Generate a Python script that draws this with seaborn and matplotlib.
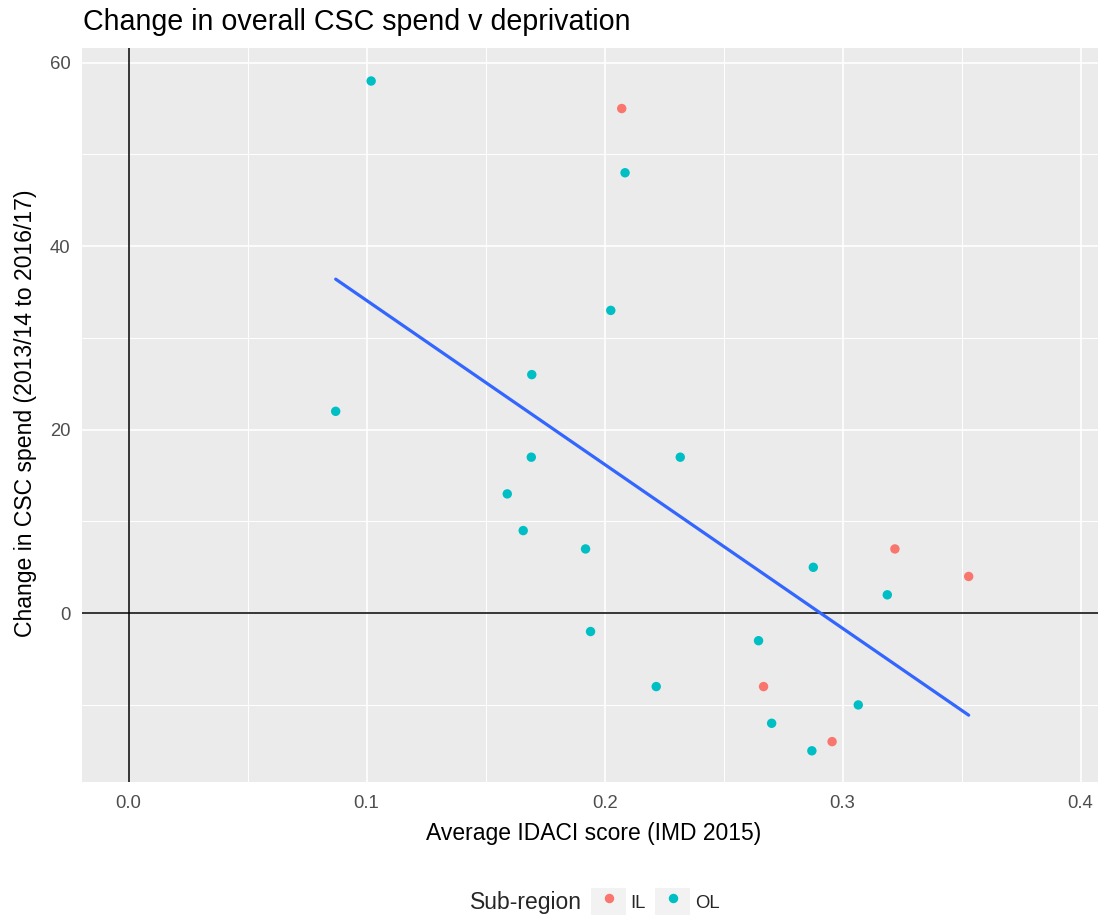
import matplotlib
matplotlib.use("Agg")
import matplotlib.pyplot as plt
from matplotlib.patches import Patch
from matplotlib.lines import Line2D
from matplotlib.legend_handler import HandlerTuple
from matplotlib.ticker import MultipleLocator
import seaborn as sns
import pandas as pd

# ---- data ----
il_idaci = [0.2072, 0.3220, 0.3530, 0.2668, 0.2956]
il_change = [55, 7, 4, -8, -14]
ol_idaci = [0.0870, 0.1019, 0.2086, 0.2026, 0.1694, 0.1692, 0.2318, 0.1591, 0.1658,
            0.1920, 0.1941, 0.2217, 0.2647, 0.2877, 0.3188, 0.3066, 0.2702, 0.2871]
ol_change = [22, 58, 48, 33, 26, 17, 17, 13, 9, 7, -2, -8, -3, 5, 2, -10, -12, -15]
subregions = ["IL", "OL"]
colors = ["#F8766D", "#00BFC4"]

df = pd.DataFrame({
    "idaci": il_idaci + ol_idaci,
    "change": il_change + ol_change,
    "sub": ["IL"] * len(il_idaci) + ["OL"] * len(ol_idaci),
})

sns.set_style("white")
plt.rcParams["font.family"] = ["Liberation Sans", "DejaVu Sans"]

W, H = 1098, 915
fig = plt.figure(figsize=(W / 100, H / 100), dpi=100)
left, right, top, bottom = 82, 1106, 47.7, 782
ax = fig.add_axes([left / W, 1 - bottom / H, (right - left) / W, (bottom - top) / H])
ax.set_facecolor("#EBEBEB")
for s in ax.spines.values():
    s.set_visible(False)

ax.set_xlim(-0.0196, 0.4107)
ax.set_ylim(-18.4, 61.63)
ax.xaxis.set_major_locator(MultipleLocator(0.1))
ax.xaxis.set_minor_locator(MultipleLocator(0.05))
ax.yaxis.set_major_locator(MultipleLocator(20))
ax.yaxis.set_minor_locator(MultipleLocator(10))
ax.grid(True, which="major", color="white", linewidth=1.2)
ax.grid(True, which="minor", color="white", linewidth=0.7)
ax.set_axisbelow(True)

ax.axvline(0, color="black", linewidth=1.1, zorder=1.5)
ax.axhline(0, color="black", linewidth=1.1, zorder=1.5)

sns.scatterplot(data=df, x="idaci", y="change", hue="sub", hue_order=subregions,
                palette=colors, s=46, linewidth=0, ax=ax, legend=False, zorder=3)
sns.regplot(data=df, x="idaci", y="change", scatter=False, ci=None, ax=ax,
            line_kws=dict(color="#3366FF", linewidth=2.3, zorder=4))

ax.xaxis.set_major_formatter(matplotlib.ticker.FuncFormatter(lambda v, p: f"{v:.1f}"))
ax.tick_params(axis="x", which="major", pad=5)
ax.tick_params(axis="y", which="major", pad=4)
ax.tick_params(axis="both", which="major", length=4.3, width=0.8, color="#333333",
               labelcolor="#4D4D4D", labelsize=13.3)
ax.tick_params(axis="both", which="minor", length=0)
ax.set_xlabel("")
ax.set_ylabel("")

fig.text(594 / W, 1 - 840 / H, "Average IDACI score (IMD 2015)", ha="center",
         va="baseline", fontsize=16.5, color="black")
fig.text(26 / W, 1 - 413 / H, "Change in CSC spend (2013/14 to 2016/17)", ha="center",
         va="center", rotation=90, fontsize=16.6, color="black")
fig.text(83 / W, 1 - 30 / H, "Change in overall CSC spend v deprivation", ha="left",
         va="baseline", fontsize=20.6, color="black")

# legend
fig.text(470 / W, 1 - 909 / H, "Sub-region", ha="left", va="baseline", fontsize=16.5)
handles = [(Patch(facecolor="#F2F2F2", edgecolor="none"),
            Line2D([], [], marker="o", linestyle="none", markersize=6.8,
                   markerfacecolor=c, markeredgewidth=0))
           for c in colors]
fig.legend(handles, subregions, handler_map={tuple: HandlerTuple(ndivide=1, pad=0)},
           loc="center left", bbox_to_anchor=(591 / W, 1 - 902 / H), ncol=2,
           frameon=False, fontsize=13.3, handlelength=1.9, handleheight=2.0,
           handletextpad=0.25, columnspacing=0.5, borderpad=0, borderaxespad=0)

fig.savefig("out.png", dpi=100)
